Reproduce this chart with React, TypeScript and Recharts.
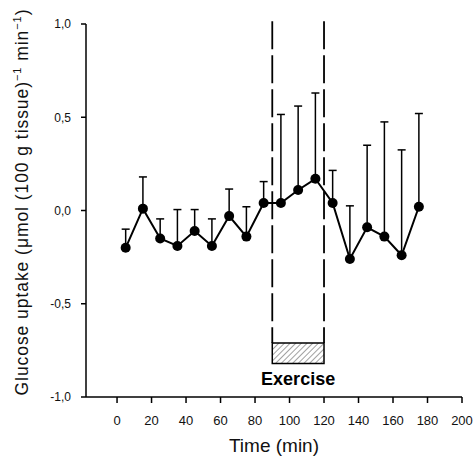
import React from 'react';
import { LineChart, Line, XAxis, YAxis, ErrorBar, ReferenceLine, ReferenceArea, Label } from 'recharts';

const times = [5, 15, 25, 35, 45, 55, 65, 75, 85, 95, 105, 115, 125, 135, 145, 155, 165, 175];
const means = [-0.2, 0.01, -0.15, -0.19, -0.11, -0.19, -0.03, -0.14, 0.04, 0.04, 0.11, 0.17, 0.04, -0.26, -0.09, -0.14, -0.24, 0.02];
const upper = [-0.1, 0.18, -0.045, 0.005, 0.005, -0.045, 0.115, 0.02, 0.155, 0.515, 0.56, 0.63, 0.215, 0.025, 0.35, 0.475, 0.325, 0.52];
const xTicks = [0, 20, 40, 60, 80, 100, 120, 140, 160, 180, 200];
const yTicks = [-1, -0.5, 0, 0.5, 1];
const exerciseStart = 90;
const exerciseEnd = 120;
const boxBottom = -0.82;
const boxTop = -0.71;
const dashTop = 1.015;

const data = times.map((t, i) => ({ t, v: means[i], err: [0, +(upper[i] - means[i]).toFixed(3)] }));

const FONT = '"Liberation Sans", Arial, Helvetica, sans-serif';

if (typeof document !== 'undefined' && document.body) {
  document.body.style.margin = '0';
}

const fmtY = (v: number) => v.toFixed(1).replace('.', ',');

const YLabel = (props: any) => {
  const vb = props.viewBox || { x: 0, y: 0, width: 0, height: 0 };
  const cx = vb.x + 20;
  const cy = vb.y + vb.height / 2 - 8;
  return (
    <text
      x={cx}
      y={cy}
      transform={`rotate(-90, ${cx}, ${cy})`}
      textAnchor="middle"
      fontFamily={FONT}
      fontSize={17.5}
      fill="#111"
      textLength={386}
      lengthAdjust="spacing"
    >
      <tspan>Glucose uptake (</tspan>
      <tspan>μ</tspan>
      <tspan>mol (100 g tissue)</tspan>
      <tspan fontSize={11} dy={-7}>−1</tspan>
      <tspan dy={7}> min</tspan>
      <tspan fontSize={11} dy={-7}>−1</tspan>
      <tspan dy={7}>)</tspan>
    </text>
  );
};

const XLabel = (props: any) => {
  const vb = props.viewBox || { x: 0, y: 0, width: 0, height: 0 };
  return (
    <text x={vb.x + vb.width / 2} y={vb.y + 55} textAnchor="middle" fontFamily={FONT} fontSize={19} fill="#111">
      Time (min)
    </text>
  );
};

const ExLabel = (props: any) => {
  const vb = props.viewBox || { x: 0, y: 0, width: 0, height: 0 };
  return (
    <text x={vb.x + vb.width / 2} y={vb.y + vb.height + 22} textAnchor="middle" fontFamily={FONT} fontSize={18} fontWeight="bold" fill="#000">
      Exercise
    </text>
  );
};

export default function App() {
  return (
    <div
      style={{
        position: 'relative',
        width: 474,
        height: 456,
        boxSizing: 'border-box',
        paddingLeft: 8,
        paddingTop: 8,
        overflow: 'hidden',
        background: '#fff',
      }}
    >
      <svg width={0} height={0} style={{ position: 'absolute' }}>
        <defs>
          <pattern id="hatch" width={4} height={4} patternUnits="userSpaceOnUse" patternTransform="rotate(45)">
            <line x1={0} y1={0} x2={0} y2={4} stroke="#444" strokeWidth={1} />
          </pattern>
        </defs>
      </svg>
      <LineChart width={466} height={448} data={data} margin={{ top: 16, right: 12, left: 0, bottom: 0 }}>
        <XAxis
          type="number"
          dataKey="t"
          domain={[-18, 200]}
          ticks={xTicks}
          allowDataOverflow
          tickSize={6}
          tickMargin={13}
          stroke="#000"
          strokeWidth={1.5}
          tick={{ fontSize: 13, fontFamily: FONT, fill: '#111' }}
          height={59}
        >
          <Label content={XLabel} />
        </XAxis>
        <YAxis
          type="number"
          domain={[-1, 1]}
          ticks={yTicks}
          allowDataOverflow
          tickFormatter={fmtY}
          tickSize={5}
          tickMargin={10}
          stroke="#000"
          strokeWidth={1.5}
          tick={{ fontSize: 12, fontFamily: FONT, fill: '#111' }}
          width={78}
        >
          <Label content={YLabel} />
        </YAxis>
        <ReferenceArea
          x1={exerciseStart}
          x2={exerciseEnd}
          y1={boxBottom}
          y2={boxTop}
          fill="url(#hatch)"
          fillOpacity={1}
          stroke="#000"
          strokeWidth={1.5}
          ifOverflow="visible"
        >
          <Label content={ExLabel} />
        </ReferenceArea>
        <ReferenceLine
          segment={[{ x: exerciseStart, y: dashTop }, { x: exerciseStart, y: boxTop }]}
          stroke="#000"
          strokeWidth={1.8}
          strokeDasharray="28 6"
          ifOverflow="visible"
        />
        <ReferenceLine
          segment={[{ x: exerciseEnd, y: dashTop }, { x: exerciseEnd, y: boxTop }]}
          stroke="#000"
          strokeWidth={1.8}
          strokeDasharray="28 6"
          ifOverflow="visible"
        />
        <Line
          type="linear"
          dataKey="v"
          stroke="#000"
          strokeWidth={2}
          dot={{ r: 5, fill: '#000', stroke: '#000', strokeWidth: 0 }}
          isAnimationActive={false}
        >
          <ErrorBar dataKey="err" direction="y" width={4} stroke="#000" strokeWidth={1.5} />
        </Line>
      </LineChart>
    </div>
  );
}
